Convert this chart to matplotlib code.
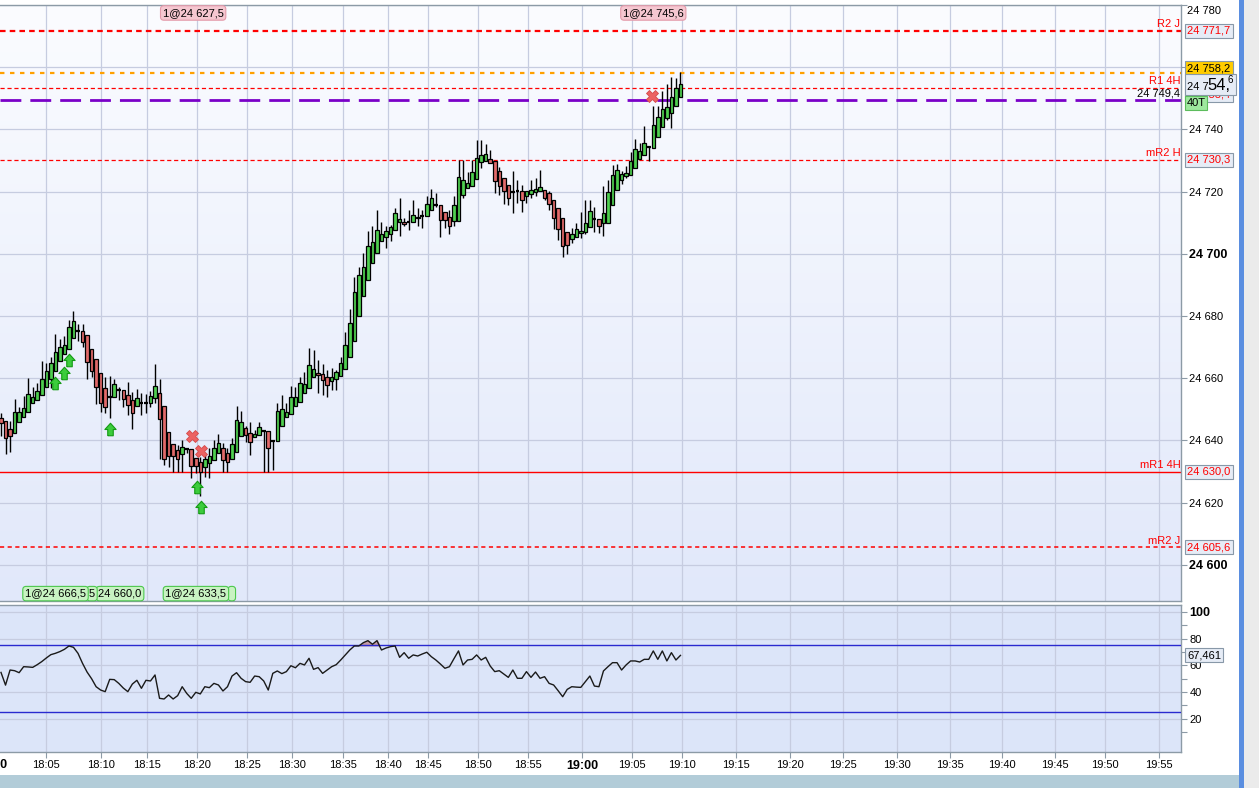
import numpy as np
import matplotlib
matplotlib.use("Agg")
import matplotlib.pyplot as plt
from matplotlib.path import Path
from matplotlib.patches import Rectangle
from matplotlib.colors import LinearSegmentedColormap
from matplotlib.transforms import blended_transform_factory

plt.rcParams['font.family'] = ['Liberation Sans', 'DejaVu Sans']
plt.rcParams['lines.scale_dashes'] = False
plt.rcParams['font.size'] = 8

# ---- candles (40 ticks) ----
opens = [24647.2, 24646.4, 24643.6, 24642.3, 24645.9, 24647.7, 24649.1, 24652.0, 24653.0, 24654.7,
         24657.1, 24659.7, 24662.2, 24665.4, 24667.8, 24669.3, 24672.9, 24675.3, 24675.3, 24673.8,
         24669.3, 24666.1, 24661.6, 24656.8, 24653.9, 24653.9, 24656.2, 24656.2, 24654.5, 24653.0,
         24651.1, 24652.2, 24652.2, 24652.2, 24653.5, 24655.2, 24651.1, 24642.6, 24638.9, 24636.8,
         24635.7, 24637.2, 24637.2, 24634.5, 24633.2, 24631.4, 24632.7, 24633.8, 24635.9, 24637.5,
         24635.9, 24634.0, 24636.4, 24641.5, 24643.9, 24642.5, 24641.0, 24641.8, 24642.9, 24642.9,
         24639.9, 24639.9, 24644.5, 24647.5, 24648.5, 24651.1, 24652.5, 24655.4, 24656.8, 24660.3,
         24661.6, 24661.3, 24660.3, 24659.0, 24659.7, 24660.6, 24662.9, 24666.8, 24672.1, 24680.1,
         24686.3, 24691.6, 24697.0, 24700.2, 24704.0, 24705.4, 24706.4, 24707.7, 24710.2, 24710.4,
         24710.4, 24710.2, 24711.5, 24712.2, 24712.2, 24714.2, 24715.8, 24715.8, 24713.3, 24712.0,
         24710.6, 24710.6, 24719.0, 24721.1, 24721.9, 24724.0, 24729.4, 24729.7, 24730.6, 24729.7,
         24726.5, 24724.4, 24722.2, 24719.9, 24720.1, 24720.3, 24718.7, 24719.2, 24719.9, 24720.3,
         24720.6, 24719.5, 24717.4, 24714.7, 24711.5, 24707.0, 24704.7, 24705.4, 24706.7, 24706.9,
         24708.6, 24711.2, 24711.2, 24709.9, 24709.9, 24715.7, 24720.6, 24723.8, 24724.9, 24725.4,
         24727.6, 24730.5, 24731.9, 24734.2, 24734.0, 24737.5, 24740.7, 24743.6, 24745.3, 24747.6,
         24750.4]
highs = [24648.8, 24646.4, 24646.4, 24653.4, 24650.9, 24654.3, 24660.0, 24657.1, 24658.4, 24665.4,
         24664.8, 24667.0, 24674.3, 24672.6, 24673.6, 24678.6, 24681.7, 24677.4, 24677.4, 24673.8,
         24669.3, 24666.1, 24661.6, 24660.5, 24660.8, 24659.9, 24657.3, 24656.2, 24658.8, 24655.7,
         24656.5, 24655.2, 24654.8, 24656.0, 24664.6, 24659.8, 24651.1, 24642.6, 24638.9, 24638.6,
         24640.0, 24637.5, 24637.2, 24634.5, 24634.8, 24635.4, 24637.5, 24640.2, 24642.0, 24639.1,
         24637.5, 24640.7, 24651.1, 24649.6, 24644.5, 24646.1, 24643.4, 24646.1, 24643.2, 24642.9,
         24639.9, 24652.0, 24654.5, 24652.0, 24657.5, 24657.3, 24660.3, 24661.9, 24669.7, 24669.1,
         24665.9, 24664.5, 24662.7, 24663.2, 24662.7, 24667.0, 24675.0, 24682.2, 24692.4, 24695.7,
         24700.4, 24707.2, 24708.8, 24714.2, 24710.4, 24708.8, 24709.4, 24714.7, 24717.9, 24711.5,
         24714.2, 24717.2, 24714.7, 24714.2, 24718.5, 24720.8, 24719.7, 24715.8, 24713.6, 24714.0,
         24718.5, 24730.3, 24730.3, 24726.2, 24730.3, 24736.7, 24736.7, 24735.4, 24733.5, 24729.7,
         24727.9, 24724.4, 24722.2, 24726.5, 24723.8, 24722.2, 24720.1, 24723.8, 24724.4, 24727.0,
         24720.6, 24720.1, 24717.4, 24714.7, 24711.5, 24707.0, 24708.3, 24709.9, 24713.3, 24717.2,
         24717.4, 24715.2, 24711.2, 24721.7, 24723.6, 24728.6, 24729.0, 24726.5, 24728.1, 24732.6,
         24736.9, 24735.6, 24741.0, 24734.2, 24747.6, 24747.4, 24752.5, 24754.7, 24757.0, 24756.5,
         24758.6]
lows = [24641.5, 24635.6, 24636.4, 24642.3, 24645.9, 24647.7, 24649.1, 24652.0, 24653.0, 24654.7,
        24657.1, 24656.8, 24662.2, 24665.4, 24667.8, 24669.3, 24672.9, 24672.1, 24669.9, 24659.9,
        24660.5, 24651.8, 24649.3, 24648.8, 24647.2, 24653.9, 24653.0, 24650.7, 24648.2, 24643.6,
        24651.1, 24648.2, 24648.8, 24650.9, 24652.0, 24634.0, 24632.1, 24631.6, 24630.0, 24630.0,
        24630.0, 24635.9, 24628.1, 24629.5, 24622.0, 24628.4, 24628.1, 24633.8, 24635.9, 24630.0,
        24630.0, 24634.0, 24636.4, 24641.5, 24639.6, 24635.4, 24641.0, 24641.8, 24630.0, 24630.0,
        24630.5, 24639.9, 24644.5, 24647.5, 24648.5, 24651.1, 24652.5, 24655.4, 24656.8, 24660.3,
        24655.2, 24654.7, 24654.1, 24656.1, 24656.3, 24660.6, 24662.9, 24666.8, 24672.1, 24680.1,
        24686.3, 24691.6, 24697.0, 24700.2, 24704.0, 24701.8, 24704.0, 24707.7, 24705.6, 24708.8,
        24707.7, 24710.2, 24708.8, 24708.3, 24712.2, 24714.2, 24715.0, 24705.4, 24708.3, 24706.5,
        24708.8, 24710.6, 24717.9, 24721.1, 24721.9, 24724.0, 24727.6, 24729.7, 24729.2, 24719.5,
        24719.0, 24716.1, 24715.8, 24713.1, 24716.3, 24713.6, 24716.3, 24717.9, 24718.5, 24720.3,
        24717.4, 24714.2, 24708.0, 24704.5, 24699.0, 24700.0, 24703.5, 24705.4, 24705.1, 24706.5,
        24708.6, 24706.9, 24706.7, 24705.6, 24709.9, 24715.7, 24720.6, 24722.5, 24724.4, 24725.4,
        24727.6, 24730.5, 24731.9, 24729.7, 24734.0, 24737.5, 24740.7, 24743.1, 24740.4, 24747.6,
        24750.4]
closes = [24645.5, 24640.7, 24641.3, 24649.3, 24649.3, 24650.4, 24654.8, 24654.1, 24656.0, 24659.7,
          24662.3, 24664.8, 24668.4, 24670.0, 24670.6, 24676.4, 24678.3, 24675.3, 24671.8, 24665.2,
          24662.5, 24657.1, 24652.2, 24650.7, 24653.9, 24658.1, 24656.2, 24653.4, 24651.3, 24648.8,
          24653.5, 24652.2, 24652.2, 24654.4, 24657.4, 24646.9, 24634.0, 24635.0, 24635.0, 24634.0,
          24638.0, 24637.2, 24631.9, 24631.9, 24630.0, 24634.0, 24635.0, 24637.7, 24639.1, 24633.8,
          24633.0, 24638.9, 24646.6, 24646.1, 24641.7, 24639.4, 24642.0, 24644.3, 24642.9, 24637.5,
          24639.9, 24649.6, 24650.0, 24649.1, 24654.1, 24654.1, 24658.4, 24658.2, 24664.3, 24662.9,
          24660.9, 24659.5, 24657.7, 24660.3, 24662.0, 24664.9, 24670.7, 24677.7, 24687.7, 24693.3,
          24695.7, 24702.6, 24703.9, 24707.7, 24706.4, 24707.4, 24708.6, 24713.1, 24711.2, 24709.6,
          24710.4, 24712.5, 24712.0, 24712.2, 24716.0, 24717.9, 24715.8, 24711.0, 24711.0, 24709.0,
          24715.7, 24724.6, 24723.6, 24722.8, 24726.2, 24730.7, 24731.8, 24732.1, 24729.2, 24723.3,
          24721.9, 24720.1, 24717.9, 24719.9, 24720.1, 24717.4, 24720.1, 24720.5, 24720.8, 24721.4,
          24717.9, 24716.1, 24711.5, 24708.0, 24702.4, 24702.9, 24706.4, 24708.0, 24707.2, 24709.9,
          24713.8, 24711.2, 24709.0, 24713.1, 24719.8, 24725.4, 24727.0, 24725.6, 24726.0, 24729.7,
          24733.7, 24733.1, 24735.6, 24734.2, 24741.5, 24744.0, 24746.5, 24747.2, 24750.4, 24753.3,
          24754.6]

# RSI, one value per candle
rsi = [54.7, 45.2, 56.5, 56.0, 54.5, 59.0, 58.8, 58.5, 60.5, 62.8,
       65.5, 68.0, 69.0, 70.3, 72.0, 74.5, 73.5, 69.0, 61.5, 55.0,
       50.0, 44.0, 41.5, 40.3, 49.5, 49.3, 46.5, 43.0, 40.3, 46.0,
       48.8, 42.8, 48.8, 48.3, 52.8, 35.3, 34.8, 37.8, 34.8, 37.3,
       44.0, 39.0, 35.3, 39.8, 38.6, 44.0, 43.3, 46.5, 45.3, 40.8,
       44.0, 52.0, 54.5, 50.3, 47.8, 47.3, 52.0, 51.5, 48.3, 41.5,
       54.0, 55.8, 53.8, 55.3, 59.7, 58.2, 61.5, 60.3, 65.3, 57.0,
       58.3, 54.0, 56.5, 59.0, 60.5, 64.0, 67.8, 71.5, 74.5, 74.5,
       77.0, 78.5, 75.8, 78.5, 71.5, 73.0, 74.0, 74.5, 66.0, 69.5,
       65.3, 67.8, 67.0, 68.5, 69.8, 66.5, 64.0, 61.0, 57.8, 59.0,
       65.0, 70.8, 60.3, 64.0, 64.5, 67.8, 64.0, 66.0, 59.5, 55.3,
       56.0, 53.5, 51.0, 56.5, 50.3, 50.3, 55.3, 51.0, 55.0, 50.3,
       51.5, 46.5, 45.3, 41.0, 36.5, 42.0, 44.0, 43.7, 43.5, 47.8,
       52.0, 44.5, 44.0, 55.8, 59.0, 62.0, 62.0, 56.5, 60.3, 63.3,
       63.3, 62.5, 64.5, 64.5, 70.8, 64.5, 70.8, 63.3, 69.5, 64.0,
       67.461]

# time axis: labels and the candle slot where each falls
time_labels = ["18:05", "18:10", "18:15", "18:20", "18:25", "18:30", "18:35", "18:40",
               "18:45", "18:50", "18:55", "19:00", "19:05", "19:10", "19:15", "19:20",
               "19:25", "19:30", "19:35", "19:40", "19:45", "19:50", "19:55"]
time_slots = [9.9, 22.1, 32.2, 43.3, 54.3, 64.2, 75.5, 85.4, 94.3, 105.3, 116.3, 128.3,
              139.3, 150.3, 162.3, 174.2, 185.9, 197.8, 209.5, 221.0, 232.7, 243.7, 255.6]

# pivot levels
level_names = ["R2 J", "R1 4H", "mR2 H", "mR1 4H", "mR2 J"]
level_values = [24771.7, 24753.4, 24730.3, 24630.0, 24605.6]
orange_level = 24758.2
purple_level = 24749.4
last_price = 24754.6

# order markers (slot, price)
buy_arrows_x = [11.9, 13.9, 15.0, 24.1, 43.3, 44.2]
buy_arrows_y = [24658.5, 24661.7, 24665.9, 24643.7, 24625.1, 24618.6]
exit_x = [42.2, 44.2, 143.7]
exit_y = [24641.5, 24636.7, 24750.8]

W, H = 1259, 788
fig = plt.figure(figsize=(W / 100, H / 100), dpi=100, facecolor='white')


def fx(px):
    return px / W


def fy(py):
    return 1 - py / H


def price_fmt(v):
    return f"{v:,.1f}".replace(",", " ").replace(".", ",")


main_rect = [0, fy(601), fx(1181), (601 - 5) / H]
rsi_rect = [0, fy(752), fx(1181), (752 - 605) / H]

# gradient backdrop for the price panel
bg = fig.add_axes(main_rect, zorder=-2)
grad = np.linspace(0, 1, 256).reshape(-1, 1)
cmap = LinearSegmentedColormap.from_list('bg', ['#e1e8fa', '#fbfcff'])
bg.imshow(grad, cmap=cmap, aspect='auto', origin='lower', extent=[0, 1, 0, 1])
bg.axis('off')

ax = fig.add_axes(main_rect)
ax.set_facecolor('none')
ax2 = fig.add_axes(rsi_rect)
ax2.set_facecolor('#dce5f9')

xlim = (-0.22, 260.5)
grid_c = '#c6cce0'
spine_c = '#8c9aa6'
tag_box = dict(boxstyle='square,pad=0.18', fc='#e6ecf6', ec='#8898a8', lw=0.8)

# ---- price panel ----
idx = np.arange(len(closes))
o = np.array(opens)
c = np.array(closes)
up = c > o
dn = c < o
flat = c == o
ax.vlines(idx, lows, highs, color='black', lw=1.0, zorder=3)
ax.bar(idx[up], (c - o)[up], bottom=o[up], width=0.78, color='#4fd04f',
       edgecolor='black', lw=0.9, zorder=4)
ax.bar(idx[dn], (o - c)[dn], bottom=c[dn], width=0.78, color='#e26a6a',
       edgecolor='black', lw=0.9, zorder=4)
ax.hlines(c[flat], idx[flat] - 0.4, idx[flat] + 0.4, color='black', lw=1.6, zorder=4)

styles = {
    "R2 J": dict(lw=1.6, dashes=(4, 3)),
    "R1 4H": dict(lw=0.9, dashes=(3, 2)),
    "mR2 H": dict(lw=0.9, dashes=(3, 2)),
    "mR1 4H": dict(lw=1.0, ls='-'),
    "mR2 J": dict(lw=1.1, dashes=(3, 2.5)),
}
# tags that had to be nudged off their line to avoid the last-price box (points)
tag_shift = {"R1 4H": -5.0}
right = blended_transform_factory(ax.transAxes, ax.transData)
for name, val in zip(level_names, level_values):
    st = styles[name]
    if 'dashes' in st:
        ax.axhline(val, color='#ff0000', lw=st['lw'], dashes=st['dashes'], zorder=2)
    else:
        ax.axhline(val, color='#ff0000', lw=st['lw'], zorder=2)
    ax.annotate(name, xy=(0.9995, val), xycoords=right, xytext=(0, 1),
                textcoords='offset points', ha='right', va='bottom',
                color='#ff0000', fontsize=8, zorder=6)
    ax.annotate(price_fmt(val), xy=(1.0055, val), xycoords=right,
                xytext=(0, tag_shift.get(name, 0)), textcoords='offset points',
                ha='left', va='center', color='#ff0000', fontsize=8,
                annotation_clip=False, zorder=10, bbox=tag_box)

ax.axhline(orange_level, color='#ffa000', lw=1.6, dashes=(3.2, 4), zorder=2)
ax.annotate(price_fmt(orange_level), xy=(1.0055, orange_level), xycoords=right,
            xytext=(0, 3.2), textcoords='offset points', ha='left', va='center',
            color='black', fontsize=8, annotation_clip=False, zorder=10,
            bbox=dict(boxstyle='square,pad=0.18', fc='#ffcc00', ec='#8898a8', lw=0.8))
ax.axhline(purple_level, color='#7a00c8', lw=2.0, dashes=(15, 6.5), zorder=2)
ax.annotate(price_fmt(purple_level), xy=(0.9995, purple_level), xycoords=right,
            xytext=(0, 1), textcoords='offset points', ha='right', va='bottom',
            color='black', fontsize=8, zorder=6)

arrow = Path([(-0.22, -0.5), (0.22, -0.5), (0.22, 0.0), (0.45, 0.0), (0.0, 0.5),
              (-0.45, 0.0), (-0.22, 0.0), (-0.22, -0.5)])
ax.plot(buy_arrows_x, buy_arrows_y, ls='none', marker=arrow, ms=9,
        mfc='#3ccc3c', mec='#139a13', mew=0.8, zorder=7)
ax.plot(exit_x, exit_y, ls='none', marker='X', ms=8.5, mfc='#ec6262',
        mec='#d44a4a', mew=0.6, zorder=7)

ax.set_xlim(*xlim)
ax.set_ylim(24588.4, 24780.0)
ax.set_xticks(time_slots)
ax.set_xticklabels([])
ax.tick_params(axis='x', length=0)
yt = np.arange(24600, 24781, 20)
ax.set_yticks(yt)
ylabels = [f"{v:,}".replace(",", " ") if v not in (24760, 24780) else "" for v in yt]
ax.set_yticklabels(ylabels)
ax.yaxis.tick_right()
ax.tick_params(axis='y', length=4, width=0.8, color=spine_c, pad=2, labelsize=8)
for t in ax.get_yticklabels():
    if t.get_text() in ("24 700", "24 600"):
        t.set_fontweight('bold')
        t.set_fontsize(9)
ax.grid(True, color=grid_c, lw=0.9, zorder=1)
ax.set_axisbelow(True)
ax.spines['left'].set_visible(False)
for s in ('top', 'right', 'bottom'):
    ax.spines[s].set_color(spine_c)
    ax.spines[s].set_linewidth(1.0)
# top label sits just inside the figure
fig.text(fx(1187), fy(11), "24 780", ha='left', va='center', fontsize=8)

# order tickets
tr_top = blended_transform_factory(ax.transData, ax.transAxes)
for xs, txt in [(35.7, "1@24 627,5"), (137.3, "1@24 745,6")]:
    ax.text(xs, 0.995, txt, transform=tr_top, ha='left', va='top', fontsize=8,
            color='black', clip_on=False, zorder=9,
            bbox=dict(boxstyle='round,pad=0.2,rounding_size=0.3', fc='#f5c7d0', ec='#e49aaa', lw=0.8))
for xs, txt in [(21.5, "24 660,0"), (19.4, "5"), (5.3, "1@24 666,5"), (50.6, " "), (36.3, "1@24 633,5")]:
    ax.text(xs, 0.004, txt, transform=tr_top, ha='left', va='bottom', fontsize=8,
            color='black', clip_on=False, zorder=9,
            bbox=dict(boxstyle='round,pad=0.2,rounding_size=0.3', fc='#c8f2c2', ec='#4cc84c', lw=0.8))

# ---- RSI panel ----
r = np.array(rsi)
ax2.plot(idx, r, color='#1a1a1a', lw=1.0, zorder=4)
ax2.fill_between(idx, r, 75, where=r > 75, interpolate=True, color='#c49aa4', zorder=3)
ax2.axhline(75, color='#2a2ad0', lw=1.0, zorder=3)
ax2.axhline(25, color='#2a2ad0', lw=1.0, zorder=3)
ax2.set_xlim(*xlim)
ax2.set_ylim(-4.9, 105.2)
ax2.set_xticks(time_slots)
ax2.set_xticklabels(time_labels)
ax2.tick_params(axis='x', length=4, width=0.8, color=spine_c, pad=2, labelsize=8)
for t in ax2.get_xticklabels():
    if t.get_text() == "19:00":
        t.set_fontweight('bold')
        t.set_fontsize(9)
ax2.set_yticks([20, 40, 60, 80, 100])
ax2.set_yticks([10, 30, 50, 70, 90], minor=True)
ax2.yaxis.tick_right()
ax2.tick_params(axis='y', which='both', length=4, width=0.8, color=spine_c, pad=2, labelsize=8)
for t in ax2.get_yticklabels():
    if t.get_text() == "100":
        t.set_fontweight('bold')
        t.set_fontsize(9)
ax2.grid(True, which='major', color=grid_c, lw=0.9, zorder=1)
ax2.set_axisbelow(True)
ax2.spines['left'].set_visible(False)
for s in ('top', 'right', 'bottom'):
    ax2.spines[s].set_color(spine_c)
    ax2.spines[s].set_linewidth(1.0)
right2 = blended_transform_factory(ax2.transAxes, ax2.transData)
ax2.text(1.0055, rsi[-1], "67,461", transform=right2, ha='left', va='center', fontsize=8,
         clip_on=False, zorder=10, bbox=tag_box)

# clipped "18:00" at the far left
fig.text(fx(-9), fy(765), "18:00", ha='center', va='center', fontsize=9, fontweight='bold')

# last price tag and tick counter
fig.patches.append(Rectangle((fx(1185), fy(95)), fx(51), 21 / H, transform=fig.transFigure,
                             fc='#e6ecf6', ec='#8898a8', lw=0.8, zorder=5))
fig.text(fx(1187), fy(87), "24 7", ha='left', va='center', fontsize=8, zorder=6)
fig.text(fx(1207), fy(86), "54,", ha='left', va='center', fontsize=12, zorder=6)
fig.text(fx(1228), fy(80), "6", ha='left', va='center', fontsize=7, zorder=6)
fig.patches.append(Rectangle((fx(1185), fy(110)), fx(22), 14 / H, transform=fig.transFigure,
                             fc='#9ee89e', ec='#5cbc5c', lw=0.8, zorder=5))
fig.text(fx(1187), fy(103), "40T", ha='left', va='center', fontsize=8, zorder=6)

# window furniture
fig.patches.append(Rectangle((fx(1239), 0), fx(5), 1, transform=fig.transFigure,
                             fc='#5a8ee0', ec='none', zorder=1))
fig.patches.append(Rectangle((fx(1244), 0), fx(15), 1, transform=fig.transFigure,
                             fc='#ebebeb', ec='none', zorder=1))
fig.patches.append(Rectangle((0, 0), fx(1239), 13 / H, transform=fig.transFigure,
                             fc='#b2ccd8', ec='none', zorder=1))

fig.savefig("out.png", dpi=100)
